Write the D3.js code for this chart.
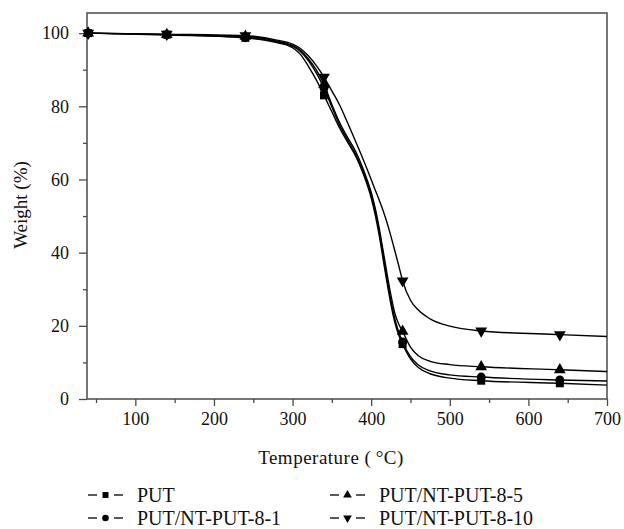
<!DOCTYPE html>
<html>
<head>
<meta charset="utf-8">
<script src="https://cdn.jsdelivr.net/npm/d3@7"></script>
<style>
  body { margin: 0; background: #fff; }
  svg text { font-family: "Liberation Serif", "Times New Roman", serif; fill: #111; }
</style>
</head>
<body>
<svg id="chart" width="624" height="529"></svg>
<script>
// temperatures (°C) shared by all curves
const temps = [40, 140, 240, 280, 300, 310, 320, 330, 340, 350, 360, 370, 380, 390, 400, 405, 410, 415, 420, 425, 430, 435, 440, 450, 460, 475, 500, 540, 640, 700];

// weight (%) per sample
const put      = [100, 99.6, 98.7, 97.4, 96.0, 94.2, 91.0, 87.3, 83.0, 78.5, 74.0, 70.2, 66.5, 61.5, 55.0, 50.5, 45.0, 38.5, 32.0, 26.0, 21.0, 17.5, 15.0, 11.0, 8.6, 6.9, 5.7, 5.0, 4.3, 3.8];
const put81    = [100, 99.5, 98.9, 97.6, 96.4, 95.0, 92.5, 89.2, 85.0, 79.8, 74.8, 70.8, 67.0, 62.0, 55.8, 51.5, 46.0, 39.5, 33.0, 27.0, 22.0, 18.3, 15.6, 11.6, 9.3, 7.7, 6.6, 6.0, 5.2, 4.9];
const put85    = [100, 99.6, 99.1, 97.8, 96.6, 95.3, 93.0, 90.0, 86.0, 80.5, 75.5, 71.5, 67.8, 62.8, 56.5, 52.3, 47.0, 40.8, 34.5, 28.5, 23.5, 20.5, 18.5, 14.2, 11.8, 10.3, 9.4, 8.8, 8.0, 7.5];
const put810   = [100, 99.7, 99.3, 98.1, 97.0, 95.8, 93.8, 91.2, 88.0, 84.2, 80.3, 75.5, 70.5, 65.4, 60.0, 57.2, 54.5, 51.6, 48.3, 44.6, 40.6, 36.5, 32.3, 27.0, 24.3, 21.9, 19.9, 18.6, 17.6, 17.1];

const seriesNames = ["PUT", "PUT/NT-PUT-8-1", "PUT/NT-PUT-8-5", "PUT/NT-PUT-8-10"];
const markerTemps = [40, 140, 240, 340, 440, 540, 640];

const xTicks = [100, 200, 300, 400, 500, 600, 700];
const xMinor = [50, 150, 250, 350, 450, 550, 650];
const yTicks = [0, 20, 40, 60, 80, 100];
const yMinor = [10, 30, 50, 70, 90];

const series = [
  { name: seriesNames[0], values: put,    symbol: d3.symbolSquare,   size: 64, rot: 0 },
  { name: seriesNames[1], values: put81,  symbol: d3.symbolCircle,   size: 62, rot: 0 },
  { name: seriesNames[2], values: put85,  symbol: d3.symbolTriangle, size: 60, rot: 0 },
  { name: seriesNames[3], values: put810, symbol: d3.symbolTriangle, size: 60, rot: 180 }
];

const svg = d3.select("#chart");
const plot = { left: 87, right: 607, top: 13, bottom: 399 };
const axisColor = "#4a4a4a";

const x = d3.scaleLinear().domain([38.5, 700]).range([plot.left, plot.right]);
const y = d3.scaleLinear().domain([0, 105.5]).range([plot.bottom, plot.top]);

// frame
svg.append("rect")
  .attr("x", plot.left).attr("y", plot.top)
  .attr("width", plot.right - plot.left).attr("height", plot.bottom - plot.top)
  .attr("fill", "none").attr("stroke", axisColor).attr("stroke-width", 1.5);

// bottom axis
svg.append("g").attr("transform", `translate(0,${plot.bottom})`)
  .call(d3.axisBottom(x).tickValues(xTicks).tickSize(7).tickPadding(6).tickFormat(d3.format("d")));
svg.append("g").attr("transform", `translate(0,${plot.bottom})`)
  .call(d3.axisBottom(x).tickValues(xMinor).tickSize(4).tickFormat(""));

// left axis
svg.append("g").attr("transform", `translate(${plot.left},0)`)
  .call(d3.axisLeft(y).tickValues(yTicks).tickSize(8).tickPadding(10).tickFormat(d3.format("d")));
svg.append("g").attr("transform", `translate(${plot.left},0)`)
  .call(d3.axisLeft(y).tickValues(yMinor).tickSize(4).tickFormat(""));

svg.selectAll(".domain").remove();
svg.selectAll(".tick line").attr("stroke", axisColor).attr("stroke-width", 1.3);
svg.selectAll(".tick text")
  .style("font-family", "Liberation Serif, serif")
  .style("font-size", "18px").attr("fill", "#111");

// axis titles
svg.append("text")
  .attr("x", 331).attr("y", 464)
  .attr("text-anchor", "middle")
  .style("font-size", "19px").style("letter-spacing", "0.5px")
  .text("Temperature (\u2009°C)");

svg.append("text")
  .attr("transform", "translate(27,205) rotate(-90)")
  .attr("text-anchor", "middle")
  .style("font-size", "19px")
  .text("Weight (%)");

// curves
const line = d3.line()
  .x((d, i) => x(temps[i]))
  .y(d => y(d))
  .curve(d3.curveMonotoneX);

series.forEach(s => {
  svg.append("path")
    .attr("d", line(s.values))
    .attr("fill", "none")
    .attr("stroke", "#000")
    .attr("stroke-width", 1.4);

  svg.selectAll(null)
    .data(markerTemps)
    .enter()
    .append("path")
    .attr("d", d3.symbol().type(s.symbol).size(s.size))
    .attr("transform", t => `translate(${x(t)},${y(s.values[temps.indexOf(t)])}) rotate(${s.rot})`)
    .attr("fill", "#000");
});

// legend
const legendPos = [
  { x: 88, y: 495 },
  { x: 88, y: 518 },
  { x: 330, y: 495 },
  { x: 330, y: 518 }
];

series.forEach((s, i) => {
  const p = legendPos[i];
  const g = svg.append("g").attr("transform", `translate(${p.x},${p.y})`);
  g.append("line").attr("x1", 0).attr("x2", 9).attr("y1", 0).attr("y2", 0)
    .attr("stroke", "#000").attr("stroke-width", 1.3);
  g.append("line").attr("x1", 26).attr("x2", 35).attr("y1", 0).attr("y2", 0)
    .attr("stroke", "#000").attr("stroke-width", 1.3);
  g.append("path")
    .attr("d", d3.symbol().type(s.symbol).size(s.size * 0.55))
    .attr("transform", `translate(17.5,0) rotate(${s.rot})`)
    .attr("fill", "#000");
  g.append("text")
    .attr("x", 49).attr("y", 7)
    .style("font-size", "20px")
    .text(s.name);
});
</script>
</body>
</html>
